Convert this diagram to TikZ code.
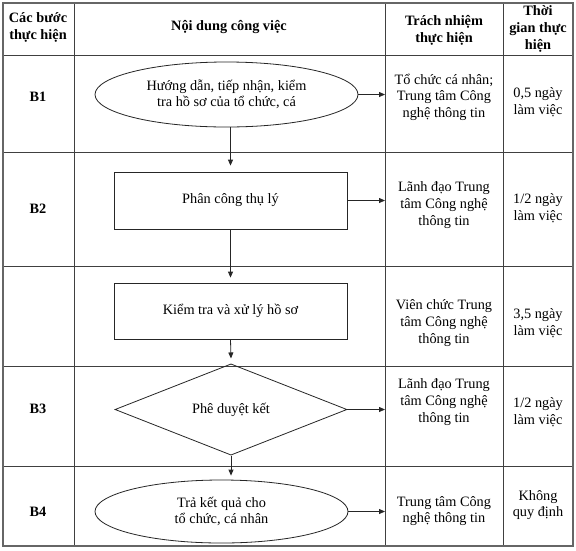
\documentclass[tikz,border=0pt]{standalone}
\usepackage{fontspec}
\setmainfont{Liberation Serif}
\usetikzlibrary{shapes.geometric,arrows.meta}
\begin{document}
\begin{tikzpicture}[x=1pt,y=-1pt,
  tbl/.style={draw=black!75,line width=0.8pt},
  outer/.style={draw=black!60,line width=1.3pt},
  txt/.style={align=center,inner sep=0pt,font=\fontsize{14.3}{16.6}\selectfont},
  hdr/.style={align=center,inner sep=0pt,font=\fontsize{14.3}{17}\selectfont\bfseries},
  shp/.style={draw=black!85,line width=0.8pt,inner sep=0pt,align=center,font=\fontsize{14.3}{15.5}\selectfont},
  arr/.style={draw=black!85,line width=0.8pt,-{Triangle[length=6pt,width=5pt]}}
]
\useasboundingbox (0,0) rectangle (576,550);
\fill[white] (0,0) rectangle (576,550);
% table grid
\foreach \yy in {55,152,266,366,466} \draw[tbl] (3,\yy) -- (573,\yy);
\foreach \xx in {74,385,503} \draw[tbl] (\xx,3) -- (\xx,546);
\draw[outer] (3,3) rectangle (573,546);
\coordinate (c2) at (385,0);
% header
\node[hdr] (h1) at (38,27) {Các bước\\thực hiện};
\node[hdr] (h2) at (229,27) {Nội dung công việc};
\node[hdr] (h3) at (444,30) {Trách nhiệm\\thực hiện};
\node[hdr] (h4) at (538,29) {Thời\\gian thực\\hiện};
% steps
\node[hdr] (s1) at (38,97) {B1};
\node[hdr] (s2) at (38,209) {B2};
\node[hdr] (s3) at (38,409) {B3};
\node[hdr] (s4) at (38,512) {B4};
% flow shapes
\node[shp,ellipse,minimum width=263pt,minimum height=65pt] (e1) at (226.5,94.5) {Hướng dẫn, tiếp nhận, kiểm\\tra hồ sơ của tổ chức, cá};
\node[shp,rectangle,minimum width=233pt,minimum height=57pt] (b2) at (230.5,200.5) {Phân công thụ lý};
\node[shp,rectangle,minimum width=233pt,minimum height=56pt] (b3) at (230.5,311) {Kiểm tra và xử lý hồ sơ};
\node[shp,diamond,minimum width=232pt,minimum height=59pt] (d3) at (231,409.5) {Phê duyệt kết};
\node[shp,ellipse,minimum width=253pt,minimum height=63pt] (e4) at (221.5,511.5) {Trả kết quả cho\\tổ chức, cá nhân};
% responsibility
\node[txt] (r1) at (444,97) {Tổ chức cá nhân;\\Trung tâm Công\\nghệ thông tin};
\node[txt] (r2) at (444,205) {Lãnh đạo Trung\\tâm Công nghệ\\thông tin};
\node[txt] (r3) at (444,323) {Viên chức Trung\\tâm Công nghệ\\thông tin};
\node[txt] (r4) at (444,402) {Lãnh đạo Trung\\tâm Công nghệ\\thông tin};
\node[txt] (r5) at (444,511) {Trung tâm Công\\nghệ thông tin};
% time
\node[txt] (t1) at (538,102) {0,5 ngày\\làm việc};
\node[txt] (t2) at (538,208) {1/2 ngày\\làm việc};
\node[txt] (t3) at (538,323) {3,5 ngày\\làm việc};
\node[txt] (t4) at (538,412) {1/2 ngày\\làm việc};
\node[txt] (t5) at (538,505) {Không\\quy định};
% connectors
\draw[arr] (e1.south -| b2.north) -- ([yshift=6pt]b2.north);
\draw[arr] (b2.south) -- ([yshift=5pt]b3.north);
\draw[arr] (b3.south) -- ([yshift=5pt]d3.north);
\draw[arr] (d3.south) -- ([yshift=4pt]d3.south |- e4.north);
\draw[arr] (e1.east) -- (e1.east -| c2);
\draw[arr] (b2.east) -- (b2.east -| c2);
\draw[arr] (d3.east) -- (d3.east -| c2);
\draw[arr] (e4.east) -- (e4.east -| c2);
\end{tikzpicture}
\end{document}
